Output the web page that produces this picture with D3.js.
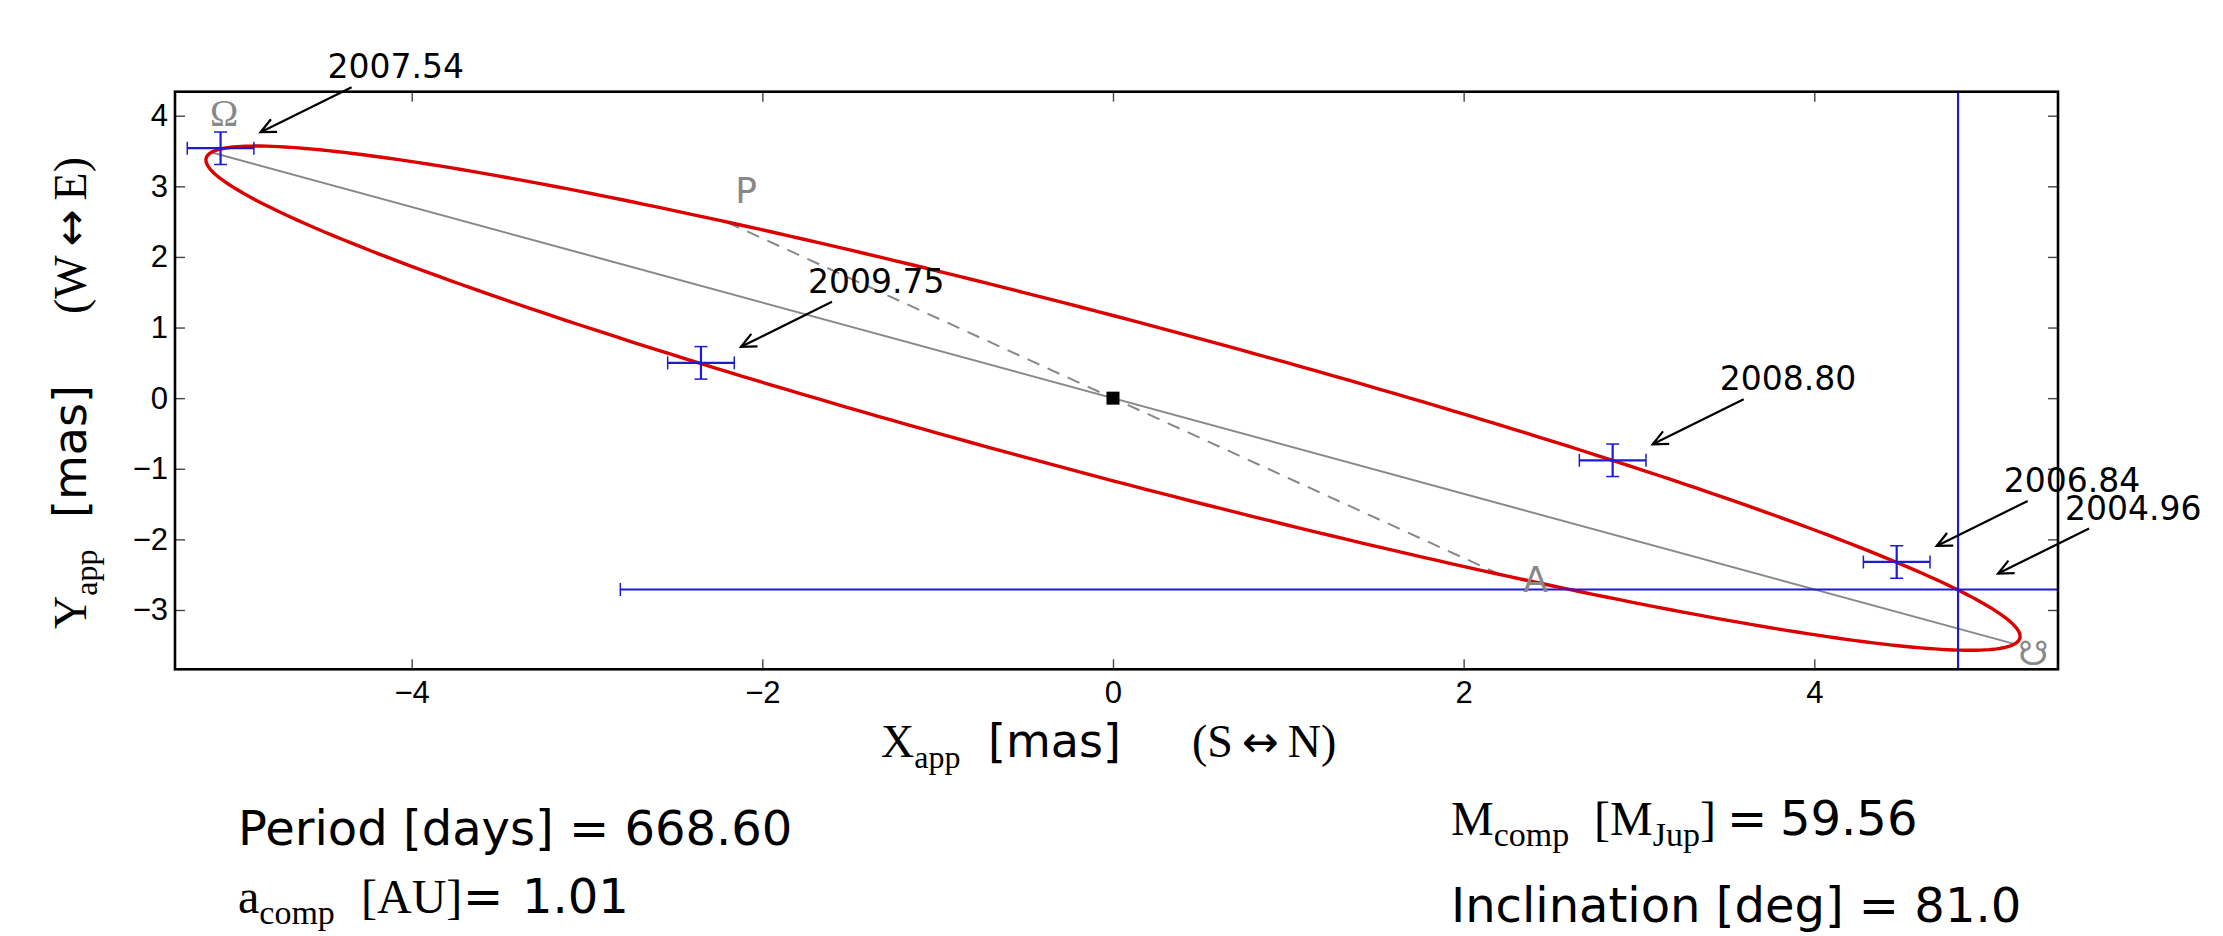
<!doctype html>
<html>
<head>
<meta charset="utf-8">
<script src="https://d3js.org/d3.v7.min.js"></script>
<style>
body { margin: 0; background: #fff; }
</style>
</head>
<body>
<svg id="chart"></svg>
<script>

// astrometric measurements (mas)
const epochs = ["2004.96", "2006.84", "2007.54", "2008.80", "2009.75"];
const xApp = [4.82, 4.47, -5.09, 2.85, -2.35];
const yApp = [-2.71, -2.32, 3.54, -0.88, 0.50];
const xErr = [7.63, 0.19, 0.19, 0.19, 0.19];
const yErr = [9.0, 0.23, 0.23, 0.23, 0.23];

// apparent orbit
const orbitCenter = [0, 0];
const orbitSemiMajor = 6.21;
const orbitSemiMinor = 0.975;
const orbitAngle = -34.06;   // degrees

const nodeAsc = [-5.14, 3.48];
const nodeDesc = [5.14, -3.48];
const periastron = [-2.2, 2.49];
const apastron = [2.2, -2.49];

const xTicks = [-4, -2, 0, 2, 4];
const yTicks = [-3, -2, -1, 0, 1, 2, 3, 4];
const xDomain = [-5.35, 5.39];
const yDomain = [-3.84, 4.34];

// fit results
const period = "668.60";
const aComp = "1.01";
const mComp = "59.56";
const inclination = "81.0";

const W = 2223, H = 936;
const SANS = "DejaVu Sans", SERIF = "Liberation Serif";
const BLUE = "#1c1cd2", RED = "#dd0000", GRAY = "#888888";
const plot = {left: 175, right: 2058, top: 91.7, bottom: 669.3};

const svg = d3.select("#chart").attr("width", W).attr("height", H);
svg.append("rect").attr("width", W).attr("height", H).attr("fill", "#fff");

const x = d3.scaleLinear().domain(xDomain).range([plot.left, plot.right]);
const y = d3.scaleLinear().domain(yDomain).range([plot.bottom, plot.top]);

svg.append("clipPath").attr("id", "clip")
	.append("rect")
	.attr("x", plot.left).attr("y", plot.top)
	.attr("width", plot.right - plot.left).attr("height", plot.bottom - plot.top);

const defs = svg.append("defs");
defs.append("marker")
	.attr("id", "head")
	.attr("markerUnits", "userSpaceOnUse")
	.attr("markerWidth", 30).attr("markerHeight", 30)
	.attr("refX", 0).attr("refY", 0)
	.attr("viewBox", "-20 -15 30 30")
	.attr("orient", "auto")
	.append("path")
	.attr("d", "M-15,-7 L0,0 L-15,7")
	.attr("fill", "none").attr("stroke", "#000").attr("stroke-width", 2.2);

const g = svg.append("g").attr("clip-path", "url(#clip)");

// line of nodes
g.append("line")
	.attr("x1", x(nodeAsc[0])).attr("y1", y(nodeAsc[1]))
	.attr("x2", x(nodeDesc[0])).attr("y2", y(nodeDesc[1]))
	.attr("stroke", GRAY).attr("stroke-width", 2);

// line of apsides
g.append("line")
	.attr("x1", x(periastron[0])).attr("y1", y(periastron[1]))
	.attr("x2", x(apastron[0])).attr("y2", y(apastron[1]))
	.attr("stroke", GRAY).attr("stroke-width", 2)
	.attr("stroke-dasharray", "13,9");

// orbit
const th = orbitAngle * Math.PI / 180;
const orbitPts = d3.range(0, 361).map(d => {
	const t = d * Math.PI / 180;
	const u = orbitSemiMajor * Math.cos(t), v = orbitSemiMinor * Math.sin(t);
	return [orbitCenter[0] + u * Math.cos(th) - v * Math.sin(th),
	        orbitCenter[1] + u * Math.sin(th) + v * Math.cos(th)];
});
g.append("path")
	.attr("d", d3.line().x(p => x(p[0])).y(p => y(p[1]))(orbitPts))
	.attr("fill", "none").attr("stroke", RED).attr("stroke-width", 3.4);

// error bars
const pts = epochs.map((e, i) => ({e: e, x: xApp[i], y: yApp[i], ex: xErr[i], ey: yErr[i]}));
const CAP = 6.5;
const eb = g.selectAll("g.eb").data(pts).enter().append("g").attr("class", "eb")
	.attr("stroke", BLUE).attr("stroke-width", 2.2);
eb.append("line")
	.attr("x1", d => x(d.x - d.ex)).attr("x2", d => x(d.x + d.ex))
	.attr("y1", d => y(d.y)).attr("y2", d => y(d.y));
eb.append("line")
	.attr("x1", d => x(d.x)).attr("x2", d => x(d.x))
	.attr("y1", d => y(d.y - d.ey)).attr("y2", d => y(d.y + d.ey));
[-1, 1].forEach(s => {
	eb.append("line")
		.attr("x1", d => x(d.x + s * d.ex)).attr("x2", d => x(d.x + s * d.ex))
		.attr("y1", d => y(d.y) - CAP).attr("y2", d => y(d.y) + CAP)
		.attr("stroke-width", 1.5);
	eb.append("line")
		.attr("x1", d => x(d.x) - CAP).attr("x2", d => x(d.x) + CAP)
		.attr("y1", d => y(d.y + s * d.ey)).attr("y2", d => y(d.y + s * d.ey))
		.attr("stroke-width", 1.5);
});

// star
g.append("rect")
	.attr("x", x(0) - 6.5).attr("y", y(0) - 6.5)
	.attr("width", 13).attr("height", 13).attr("fill", "#000");

// node and apsis labels
const symLabels = [
	{t: "Ω", at: [-5.07, 3.86], font: SERIF, size: 38, anchor: "middle"},
	{t: "☋", at: [5.25, -3.78], font: SANS, size: 34, anchor: "middle"},
	{t: "P", at: [-2.154, 2.77], font: SANS, size: 36, anchor: "start"},
	{t: "A", at: [2.34, -2.75], font: SANS, size: 36, anchor: "start"}
];
svg.selectAll("text.sym").data(symLabels).enter().append("text")
	.attr("class", "sym")
	.attr("x", d => x(d.at[0])).attr("y", d => y(d.at[1]))
	.attr("text-anchor", d => d.anchor)
	.attr("font-family", d => d.font).attr("font-size", d => d.size)
	.attr("fill", GRAY)
	.text(d => d.t);

// axes, ticks inward on all four sides
const axes = svg.append("g").attr("font-family", SANS);
axes.append("g").attr("transform", `translate(0,${plot.bottom})`)
	.call(d3.axisBottom(x).tickValues(xTicks).tickSize(-10).tickPadding(12));
axes.append("g").attr("transform", `translate(0,${plot.top})`)
	.call(d3.axisTop(x).tickValues(xTicks).tickSize(-10).tickFormat(""));
axes.append("g").attr("transform", `translate(${plot.left},0)`)
	.call(d3.axisLeft(y).tickValues(yTicks).tickSize(-10).tickPadding(7));
axes.append("g").attr("transform", `translate(${plot.right},0)`)
	.call(d3.axisRight(y).tickValues(yTicks).tickSize(-10).tickFormat(""));
axes.selectAll(".domain").remove();
axes.selectAll(".tick line").attr("stroke", "#444").attr("stroke-width", 1.4);
axes.selectAll(".tick text").attr("font-size", 31).attr("fill", "#000");

svg.append("rect")
	.attr("x", plot.left).attr("y", plot.top)
	.attr("width", plot.right - plot.left).attr("height", plot.bottom - plot.top)
	.attr("fill", "none").attr("stroke", "#000").attr("stroke-width", 2.6);

// annotations (offsets in px from the point)
const textOff = [107, -70], tailOff = [131, -61], headOff = [40, -16];
const ann = svg.selectAll("g.ann").data(pts).enter().append("g").attr("class", "ann");
ann.append("text")
	.attr("x", d => x(d.x) + textOff[0]).attr("y", d => y(d.y) + textOff[1])
	.attr("font-family", SANS).attr("font-size", 33).attr("fill", "#000")
	.text(d => d.e);
ann.append("line")
	.attr("x1", d => x(d.x) + tailOff[0]).attr("y1", d => y(d.y) + tailOff[1])
	.attr("x2", d => x(d.x) + headOff[0]).attr("y2", d => y(d.y) + headOff[1])
	.attr("stroke", "#000").attr("stroke-width", 2.2)
	.attr("marker-end", "url(#head)");

// axis labels
const xl = svg.append("text").attr("y", 757).attr("font-size", 46).attr("fill", "#000");
xl.append("tspan").attr("x", 881).attr("font-family", SERIF).text("X");
xl.append("tspan").attr("font-family", SERIF).attr("font-size", 32).attr("dy", 11).text("app");
xl.append("tspan").attr("x", 988).attr("dy", -11).attr("font-family", SANS).text("[mas]");
xl.append("tspan").attr("x", 1192).attr("font-family", SERIF).text("(S");
xl.append("tspan").attr("font-family", SANS).attr("font-size", 44).attr("dx", 9).text("↔");
xl.append("tspan").attr("font-family", SERIF).attr("dx", 9).text("N)");

const yl = svg.append("text").attr("transform", "translate(86,0) rotate(-90)")
	.attr("font-size", 46).attr("fill", "#000");
yl.append("tspan").attr("x", -629).attr("font-family", SERIF).text("Y");
yl.append("tspan").attr("font-family", SERIF).attr("font-size", 32).attr("dy", 11).text("app");
yl.append("tspan").attr("x", -518).attr("dy", -11).attr("font-family", SANS).text("[mas]");
yl.append("tspan").attr("x", -314).attr("font-family", SERIF).text("(W");
yl.append("tspan").attr("font-family", SANS).attr("font-size", 44).attr("dx", 9).text("↔");
yl.append("tspan").attr("font-family", SERIF).attr("dx", 9).text("E)");

// fit summary
svg.append("text").attr("x", 238).attr("y", 845)
	.attr("font-family", SANS).attr("font-size", 48).attr("fill", "#000")
	.text(`Period [days] = ${period}`);

const at = svg.append("text").attr("y", 913).attr("font-size", 48).attr("fill", "#000");
at.append("tspan").attr("x", 238).attr("font-family", SERIF).text("a");
at.append("tspan").attr("font-family", SERIF).attr("font-size", 34).attr("dy", 11).text("comp");
at.append("tspan").attr("x", 361).attr("dy", -11).attr("font-family", SERIF).text("[AU]");
at.append("tspan").attr("x", 463).attr("font-family", SANS).text("=");
at.append("tspan").attr("x", 522).attr("font-family", SANS).text(aComp);

const mt = svg.append("text").attr("y", 835).attr("font-size", 48).attr("fill", "#000");
mt.append("tspan").attr("x", 1451).attr("font-family", SERIF).text("M");
mt.append("tspan").attr("font-family", SERIF).attr("font-size", 34).attr("dy", 11).text("comp");
mt.append("tspan").attr("x", 1594).attr("dy", -11).attr("font-family", SERIF).text("[M");
mt.append("tspan").attr("font-family", SERIF).attr("font-size", 34).attr("dy", 11).text("Jup");
mt.append("tspan").attr("dy", -11).attr("font-family", SERIF).text("]");
mt.append("tspan").attr("x", 1727).attr("font-family", SANS).text("=");
mt.append("tspan").attr("x", 1780).attr("font-family", SANS).text(mComp);

svg.append("text").attr("x", 1451).attr("y", 922)
	.attr("font-family", SANS).attr("font-size", 48).attr("fill", "#000")
	.text(`Inclination [deg] = ${inclination}`);

</script>
</body>
</html>
